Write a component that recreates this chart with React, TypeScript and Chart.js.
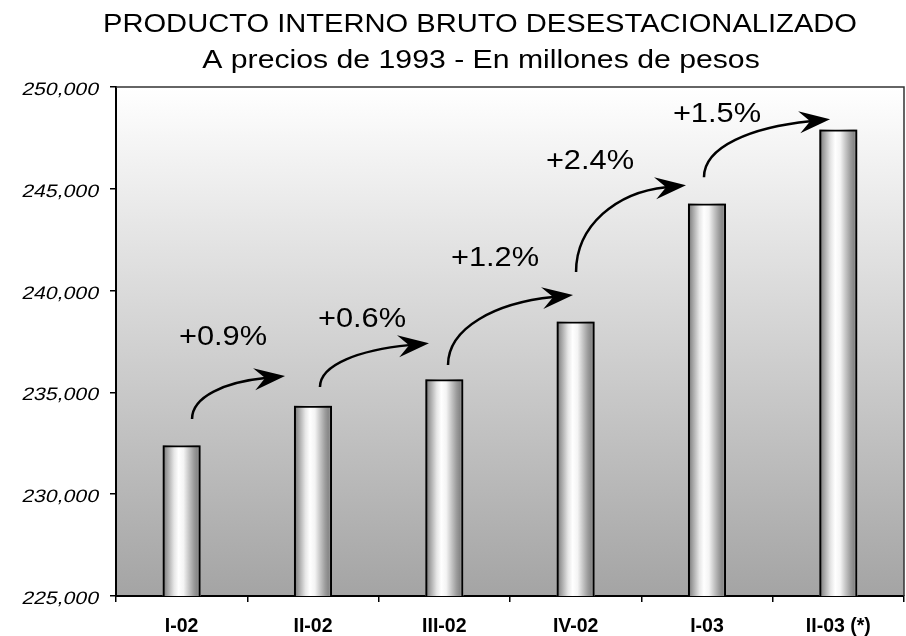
import React, { useEffect, useRef } from 'react';
import { Chart, registerables } from 'chart.js';

Chart.register(...registerables);

// ---- data ----
const categories = ['I-02', 'II-02', 'III-02', 'IV-02', 'I-03', 'II-03 (*)'];
const gdpValues = [232400, 234350, 235640, 238480, 244280, 247915];
const yMin = 225000;
const yMax = 250000;
const yStep = 5000;
const titleLine1 = 'PRODUCTO INTERNO BRUTO DESESTACIONALIZADO';
const titleLine2 = 'A precios de 1993 - En millones de pesos';
const growthLabels = ['+0.9%', '+0.6%', '+1.2%', '+2.4%', '+1.5%'];
// annotation anchors in data coordinates: [category position, value]
const growthLabelAt = [
  [0.315, 237330],
  [1.373, 238210],
  [2.386, 241200],
  [3.109, 245970],
  [4.076, 248270],
];
const arrowFrom = [
  [0.079, 233690],
  [1.053, 235260],
  [2.028, 236340],
  [3.003, 240910],
  [3.977, 245570],
];
const arrowTo = [
  [0.787, 235800],
  [1.883, 237420],
  [2.98, 239780],
  [3.84, 245180],
  [4.937, 248420],
];

const FONT = '"Liberation Sans", Arial, Helvetica, sans-serif';

function catX(chart: any, pos: number) {
  const xs = chart.scales.x;
  const p0 = xs.getPixelForValue(0);
  const p1 = xs.getPixelForValue(1);
  return p0 + pos * (p1 - p0);
}

function stretchedText(
  ctx: CanvasRenderingContext2D,
  text: string,
  x: number,
  y: number,
  font: string,
  sx: number,
  align: CanvasTextAlign,
  skew = 0
) {
  ctx.save();
  ctx.translate(x, y);
  ctx.scale(sx, 1);
  if (skew) ctx.transform(1, 0, -skew, 1, 0, 0);
  ctx.font = font;
  ctx.fillStyle = '#000';
  ctx.textAlign = align;
  ctx.textBaseline = 'alphabetic';
  ctx.fillText(text, 0, 0);
  ctx.restore();
}

const decorPlugin = {
  id: 'decor',
  beforeDraw(chart: any) {
    const { ctx, chartArea: a } = chart;
    ctx.save();
    const g = ctx.createLinearGradient(0, a.top, 0, a.bottom);
    g.addColorStop(0, '#ffffff');
    g.addColorStop(1, '#a4a4a4');
    ctx.fillStyle = g;
    ctx.fillRect(a.left, a.top, a.right - a.left, a.bottom - a.top);
    ctx.restore();
    stretchedText(ctx, titleLine1, 480, 32, `26px ${FONT}`, 1.12, 'center');
    stretchedText(ctx, titleLine2, 481, 68, `26.5px ${FONT}`, 1.14, 'center');
  },
  beforeDatasetsDraw(chart: any) {
    const { ctx, chartArea: a } = chart;
    const meta = chart.getDatasetMeta(0);
    ctx.save();
    ctx.beginPath();
    ctx.rect(a.left, a.top, a.right - a.left, a.bottom - a.top);
    ctx.clip();
    meta.data.forEach((bar: any) => {
      const { x, y, base, width } = bar.getProps(['x', 'y', 'base', 'width'], true);
      const l = x - width / 2;
      const g = ctx.createLinearGradient(l, 0, l + width, 0);
      g.addColorStop(0, '#6e6e6e');
      g.addColorStop(0.1, '#9a9a9a');
      g.addColorStop(0.3, '#e6e6e6');
      g.addColorStop(0.42, '#ffffff');
      g.addColorStop(0.55, '#f4f4f4');
      g.addColorStop(0.7, '#c2c2c2');
      g.addColorStop(0.82, '#9c9c9c');
      g.addColorStop(0.9, '#888888');
      g.addColorStop(1, '#a4a4a4');
      ctx.fillStyle = g;
      ctx.fillRect(l, y, width, base - y);
    });
    ctx.restore();
  },
  afterDraw(chart: any) {
    const { ctx, chartArea: a } = chart;
    const xs = chart.scales.x;
    const ys = chart.scales.y;
    // top / right frame
    ctx.save();
    ctx.strokeStyle = '#333333';
    ctx.lineWidth = 1.5;
    ctx.beginPath();
    ctx.moveTo(a.left, a.top);
    ctx.lineTo(a.right, a.top);
    ctx.lineTo(a.right, a.bottom);
    ctx.stroke();
    ctx.restore();

    // y tick labels
    ys.ticks.forEach((t: any) => {
      const py = ys.getPixelForValue(t.value);
      stretchedText(ctx, t.value.toLocaleString('en-US'), a.left - 18, py + 8, `18px ${FONT}`, 1.18, 'right', 0.2);
    });
    // x tick labels
    categories.forEach((c, i) => {
      const px = xs.getPixelForValue(i);
      stretchedText(ctx, c, px, 632, `bold 19.5px ${FONT}`, 1, 'center');
    });

    // arrows
    ctx.save();
    ctx.strokeStyle = '#000';
    ctx.fillStyle = '#000';
    ctx.lineWidth = 2.5;
    arrowFrom.forEach((from, i) => {
      const to = arrowTo[i];
      const sx = catX(chart, from[0]);
      const sy = ys.getPixelForValue(from[1]);
      const tx = catX(chart, to[0]);
      const ty = ys.getPixelForValue(to[1]);
      const th = -0.1;
      const c = Math.cos(th);
      const s = Math.sin(th);
      const ex = tx - 20 * c;
      const ey = ty - 20 * s;
      const dx = ex - sx;
      const dy = sy - ey;
      ctx.beginPath();
      ctx.moveTo(sx, sy);
      ctx.bezierCurveTo(sx, sy - 0.55 * dy, ex - 0.55 * dx * c, ey - 0.55 * dx * s, ex, ey);
      ctx.stroke();
      ctx.save();
      ctx.translate(tx, ty);
      ctx.rotate(th);
      ctx.beginPath();
      ctx.moveTo(0, 0);
      ctx.lineTo(-31, -11);
      ctx.lineTo(-20, 0);
      ctx.lineTo(-31, 11);
      ctx.closePath();
      ctx.fill();
      ctx.restore();
    });
    ctx.restore();

    // growth labels
    growthLabels.forEach((txt, i) => {
      const at = growthLabelAt[i];
      stretchedText(ctx, txt, catX(chart, at[0]), ys.getPixelForValue(at[1]), `28px ${FONT}`, 1.1, 'center');
    });
  },
};

export default function App() {
  const ref = useRef<HTMLCanvasElement>(null);
  useEffect(() => {
    if (!ref.current) return;
    const chart = new Chart(ref.current, {
      type: 'bar',
      data: {
        labels: categories,
        datasets: [
          {
            data: gdpValues,
            backgroundColor: 'rgba(0,0,0,0)',
            borderColor: '#000000',
            borderWidth: 2,
            borderSkipped: false,
            barPercentage: 0.29,
            categoryPercentage: 1,
          },
        ],
      },
      options: {
        responsive: false,
        animation: false,
        devicePixelRatio: 1,
        layout: { padding: { top: 87, right: 2, left: 0, bottom: 0 } },
        plugins: {
          legend: { display: false },
          title: { display: false },
          tooltip: { enabled: false },
        },
        scales: {
          x: {
            grid: {
              offset: true,
              drawOnChartArea: false,
              drawTicks: true,
              tickLength: 6,
              color: '#000',
              lineWidth: 1.5,
            },
            border: { display: true, color: '#000', width: 2 },
            ticks: { display: false },
            afterFit: (s: any) => {
              s.height = 40;
            },
          },
          y: {
            min: yMin,
            max: yMax,
            ticks: { display: false, stepSize: yStep },
            grid: {
              drawOnChartArea: false,
              drawTicks: true,
              tickLength: 6,
              color: '#000',
              lineWidth: 1.5,
            },
            border: { display: true, color: '#000', width: 2 },
            afterFit: (s: any) => {
              s.width = 116;
            },
          },
        },
      },
      plugins: [decorPlugin],
    });
    return () => chart.destroy();
  }, []);
  return (
    <div style={{ position: 'fixed', left: 0, top: 0, width: 906, height: 636, background: '#fff' }}>
      <canvas ref={ref} width={906} height={636} style={{ width: 906, height: 636 }} />
    </div>
  );
}
